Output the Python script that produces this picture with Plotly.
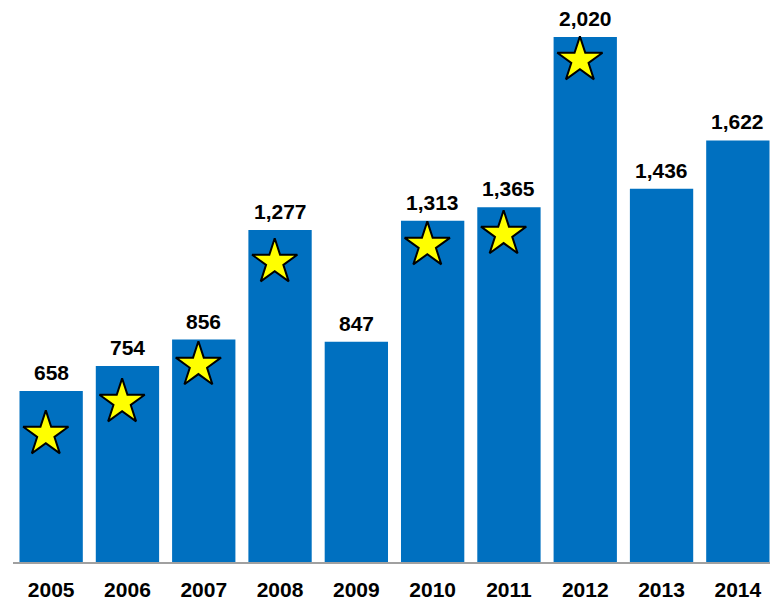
import plotly.graph_objects as go

years = [2005, 2006, 2007, 2008, 2009, 2010, 2011, 2012, 2013, 2014]
values = [658, 754, 856, 1277, 847, 1313, 1365, 2020, 1436, 1622]
value_labels = ["658", "754", "856", "1,277", "847", "1,313", "1,365", "2,020", "1,436", "1,622"]
star_years = [2005, 2006, 2007, 2008, 2010, 2011, 2012]
star_levels = [492, 615, 758, 1154, 1219, 1262, 1931]

FONT = "Liberation Sans, Arial, sans-serif"

fig = go.Figure()
fig.add_trace(go.Bar(
    x=years, y=values, marker=dict(color="#0070C0", line=dict(width=0)),
    width=0.83, hoverinfo="skip",
))
fig.add_trace(go.Scatter(
    x=[y - 0.07 for y in star_years], y=star_levels, mode="markers",
    marker=dict(symbol="star", size=34, color="#FFFF00", line=dict(color="black", width=2)),
    hoverinfo="skip", cliponaxis=False,
))
for x, v, t in zip(years, values, value_labels):
    fig.add_annotation(x=x, y=v, text="<b>%s</b>" % t, showarrow=False,
                       yanchor="bottom", yshift=5,
                       font=dict(family=FONT, size=21, color="black"))

fig.update_layout(
    width=770, height=595, showlegend=False,
    paper_bgcolor="white", plot_bgcolor="white",
    margin=dict(l=5, r=2, t=0, b=41),
    bargap=0.17,
    xaxis=dict(range=[2004.5, 2014.5], tickvals=years,
               ticktext=["<b>%d</b>" % y for y in years],
               showline=True, linecolor="#A0A0A0", linewidth=2,
               showgrid=False, zeroline=False, ticks="",
               ticklabelstandoff=8,
               tickfont=dict(family=FONT, size=21, color="black")),
    yaxis=dict(range=[0, 2131.6], visible=False, showgrid=False, zeroline=False),
)
fig.write_html("out.html")
